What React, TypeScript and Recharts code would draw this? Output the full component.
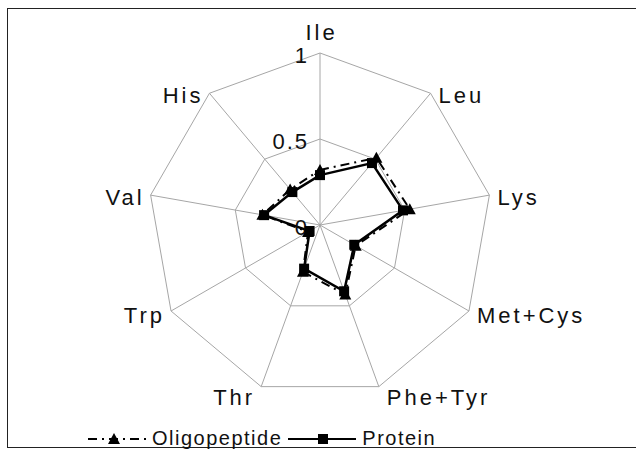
import React from 'react';
import { RadarChart, Radar, PolarGrid, PolarAngleAxis, PolarRadiusAxis, Legend } from 'recharts';

const aminoAcids = ['Ile', 'Leu', 'Lys', 'Met+Cys', 'Phe+Tyr', 'Thr', 'Trp', 'Val', 'His'];
const oligopeptide = [0.32, 0.51, 0.53, 0.24, 0.43, 0.29, 0.08, 0.34, 0.27];
const protein = [0.29, 0.47, 0.49, 0.23, 0.41, 0.27, 0.07, 0.33, 0.25];
const radiusTicks = [0, 0.5, 1];

const data = aminoAcids.map((name, i) => ({
  name,
  oligopeptide: oligopeptide[i],
  protein: protein[i],
}));

const W = 636;
const H = 452;
const CX = 320;
const CY = 225;
const R = 172;
const FONT = '"Liberation Sans", Arial, sans-serif';

const AngleTick = (props: any) => {
  const { payload, index } = props;
  const deg = typeof payload?.coordinate === 'number' ? payload.coordinate : 90 - index * 40;
  const a = (deg * Math.PI) / 180;
  const cos = Math.cos(a);
  const sin = Math.sin(a);
  const vx = CX + R * cos;
  const vy = CY - R * sin;
  let x = vx + 1.5;
  // labels sit beside their spoke end, a little lower towards the bottom
  let y = vy + 2 + 4 * Math.max(0, -sin) + (sin < -0.9 ? 5 : 0);
  let anchor: 'start' | 'middle' | 'end' = 'middle';
  if (Math.abs(cos) < 0.1) {
    y = vy - 21;
  } else if (cos > 0) {
    x = vx + 8;
    anchor = 'start';
  } else {
    x = vx - 6;
    anchor = 'end';
  }
  return (
    <text
      x={x}
      y={y}
      textAnchor={anchor}
      dominantBaseline="central"
      fontFamily={FONT}
      fontSize={22}
      letterSpacing={3}
      fill="#111"
    >
      {payload.value}
    </text>
  );
};

const RadiusTick = (props: any) => {
  const { y, payload } = props;
  return (
    <text
      x={CX - 11}
      y={y + 2}
      textAnchor="end"
      dominantBaseline="central"
      fontFamily={FONT}
      fontSize={22}
      letterSpacing={2}
      fill="#111"
    >
      {payload.value}
    </text>
  );
};

const SquareDot = (p: any) => (
  <rect key={`sq-${p.index}`} x={p.cx - 5} y={p.cy - 5} width={10} height={10} fill="#000" />
);

const TriangleDot = (p: any) => (
  <path
    key={`tr-${p.index}`}
    d={`M${p.cx},${p.cy - 6}L${p.cx + 6},${p.cy + 5}L${p.cx - 6},${p.cy + 5}Z`}
    fill="#000"
  />
);

const LegendContent = () => (
  <div
    style={{
      display: 'flex',
      alignItems: 'center',
      fontFamily: FONT,
      fontSize: 20,
      letterSpacing: 1.5,
      color: '#111',
      paddingLeft: 88,
    }}
  >
    <svg width={60} height={20}>
      <line x1={0} y1={10} x2={58} y2={10} stroke="#000" strokeWidth={2} strokeDasharray="9 5 2 5" />
      <path d="M26,4L32,15L20,15Z" fill="#000" />
    </svg>
    <span style={{ marginLeft: 4 }}>Oligopeptide</span>
    <svg width={70} height={20} style={{ marginLeft: 6 }}>
      <line x1={0} y1={10} x2={68} y2={10} stroke="#000" strokeWidth={2} />
      <rect x={30} y={5} width={10} height={10} fill="#000" />
    </svg>
    <span style={{ marginLeft: 4 }}>Protein</span>
  </div>
);

export default function App() {
  return (
    <div style={{ position: 'absolute', left: 0, top: 0, width: W, height: H, background: '#fff' }}>
      <div
        style={{
          position: 'absolute',
          left: 7,
          top: 8,
          width: 629,
          height: 440,
          borderLeft: '1.5px solid #222',
          borderTop: '1.5px solid #222',
          borderBottom: '1.5px solid #222',
          boxSizing: 'border-box',
        }}
      />
      <div style={{ position: 'absolute', left: 0, top: 0 }}>
        <RadarChart width={W} height={H} data={data} cx={CX} cy={CY} outerRadius={R} margin={{ top: 0, right: 0, bottom: 0, left: 0 }}>
          <PolarGrid gridType="polygon" stroke="#a6a6a6" strokeWidth={1} />
          <PolarAngleAxis dataKey="name" tick={AngleTick} tickLine={false} axisLine={false} />
          <PolarRadiusAxis
            angle={90}
            domain={[0, 1]}
            ticks={radiusTicks as any}
            tickCount={3}
            type="number"
            axisLine={false}
            tickLine={false}
            tick={RadiusTick}
          />
          <Radar
            name="Oligopeptide"
            dataKey="oligopeptide"
            stroke="#000"
            strokeWidth={2}
            strokeDasharray="9 5 2 5"
            fill="none"
            fillOpacity={0}
            dot={TriangleDot}
            isAnimationActive={false}
          />
          <Radar
            name="Protein"
            dataKey="protein"
            stroke="#000"
            strokeWidth={2.5}
            fill="none"
            fillOpacity={0}
            dot={SquareDot}
            isAnimationActive={false}
          />
          <Legend
            content={LegendContent}
            wrapperStyle={{ position: 'absolute', left: 0, top: 427, width: W }}
          />
        </RadarChart>
      </div>
    </div>
  );
}
